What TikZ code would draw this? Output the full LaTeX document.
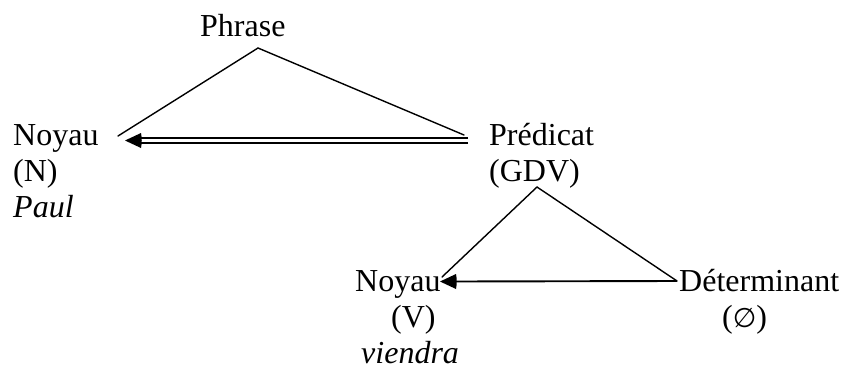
\documentclass[tikz,border=0pt]{standalone}
\usepackage{fontspec}
\setmainfont{Liberation Serif}
\newfontfamily\djv{DejaVu Sans}
\usetikzlibrary{arrows.meta}
\begin{document}
\begin{tikzpicture}[x=1pt,y=-1pt,
  lbl/.style={inner sep=0pt,anchor=base west,font=\fontsize{32}{36}\selectfont},
  tri/.style={line width=1.4pt,line cap=round},
  arr/.style={line width=1.9pt},
  head/.style={fill=black}]
\useasboundingbox (0,0) rectangle (844,373);
% texts
\node[lbl] (phrase) at (200,36) {Phrase};
\node[lbl] (nN) at (13,145) {Noyau};
\node[lbl] (nNb) at (13,181) {(N)};
\node[lbl] (paul) at (13,217) {\itshape Paul};
\node[lbl] (pred) at (489,145) {Prédicat};
\node[lbl] (gdv) at (489,181) {(GDV)};
\node[lbl] (nV) at (355,291) {Noyau};
\node[lbl] (vV) at (391,327) {(V)};
\node[lbl] (viendra) at (361,363) {\itshape viendra};
\node[lbl] (det) at (679,291) {Déterminant};
\node[lbl] (empt) at (722,327) {({\djv\fontsize{27}{30}\selectfont ∅})};
% upper triangle
\coordinate (apexA) at (258,48);
\coordinate (leftA) at (118,136);
\coordinate (rightA) at (464,135);
\draw[tri] (leftA) -- (apexA) -- (rightA);
% double arrow
\coordinate (dA1) at (468,138);
\coordinate (dA2) at (468,143);
\coordinate (dB1) at (136,138);
\coordinate (dB2) at (136,143);
\coordinate (tipA) at (125,140.5);
\draw[arr] (dA1) -- (dB1);
\draw[arr] (dA2) -- (dB2);
\fill[head] (tipA) -- (141,133) to[bend left=10] (141,148) -- cycle;
% lower triangle
\coordinate (apexB) at (537,187);
\coordinate (leftB) at (442,277);
\coordinate (rightB) at (677,281);
\draw[tri] (leftB) -- (apexB) -- (rightB);
% lower arrow
\coordinate (tipB) at (440,281.5);
\draw[arr] (rightB) -- (452,281.5);
\fill[head] (tipB) -- (456,274) to[bend left=10] (456,289) -- cycle;
\end{tikzpicture}
\end{document}
